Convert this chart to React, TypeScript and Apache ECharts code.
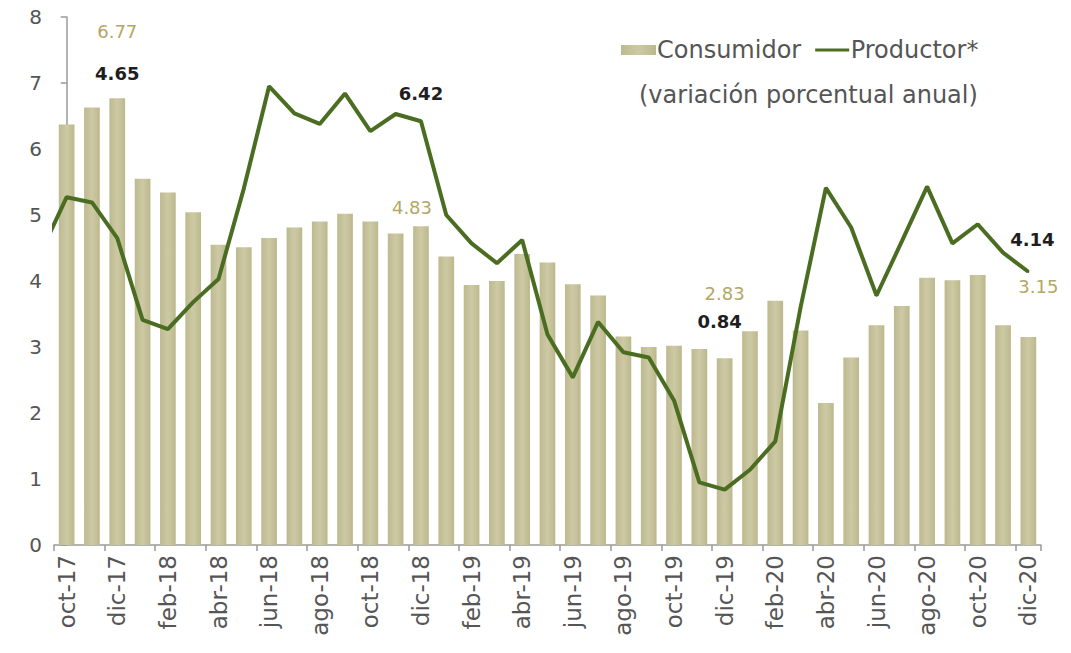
import React, { useEffect, useRef } from 'react';
import * as echarts from 'echarts';

const months = [
  'oct-17', 'nov-17', 'dic-17',
  'ene-18', 'feb-18', 'mar-18', 'abr-18', 'may-18', 'jun-18', 'jul-18', 'ago-18', 'sep-18', 'oct-18', 'nov-18', 'dic-18',
  'ene-19', 'feb-19', 'mar-19', 'abr-19', 'may-19', 'jun-19', 'jul-19', 'ago-19', 'sep-19', 'oct-19', 'nov-19', 'dic-19',
  'ene-20', 'feb-20', 'mar-20', 'abr-20', 'may-20', 'jun-20', 'jul-20', 'ago-20', 'sep-20', 'oct-20', 'nov-20', 'dic-20',
];

const consumidor = [
  6.37, 6.63, 6.77,
  5.55, 5.34, 5.04, 4.55, 4.51, 4.65, 4.81, 4.90, 5.02, 4.90, 4.72, 4.83,
  4.37, 3.94, 4.00, 4.41, 4.28, 3.95, 3.78, 3.16, 3.00, 3.02, 2.97, 2.83,
  3.24, 3.70, 3.25, 2.15, 2.84, 3.33, 3.62, 4.05, 4.01, 4.09, 3.33, 3.15,
];

// sep-17 value (only its segment toward oct-17 is visible, clipped at the axis)
const productorPrev = 4.45;
const productor = [
  5.27, 5.19, 4.65,
  3.41, 3.27, 3.68, 4.03, 5.40, 6.95, 6.54, 6.38, 6.84, 6.27, 6.53, 6.42,
  5.00, 4.57, 4.27, 4.62, 3.19, 2.54, 3.38, 2.92, 2.84, 2.19, 0.95, 0.84,
  1.14, 1.57, 3.60, 5.41, 4.81, 3.78, 4.60, 5.43, 4.57, 4.86, 4.43, 4.14,
];

const yMin = 0;
const yMax = 8;
const yStep = 1;

const legendNames = ['Consumidor', 'Productor*'];
const subtitle = '(variación porcentual anual)';

// indices that carry a value label, with label nudges
const barLabelIdx: Record<number, [number, number]> = { 2: [0, -53], 14: [-9, -5], 26: [0, -51], 38: [10, -37] };
const lineLabelIdx: Record<number, [number, number]> = { 2: [0, -150], 14: [0, -13], 26: [-5, -153], 38: [4, -17] };

const FONT = 'DejaVu Sans';
const KHAKI_TEXT = '#b3a765';
const GREEN = '#4a6d22';
const AXIS = '#9a9a9a';
const TEXT = '#555555';

const LINE_ICON = 'path://M0,0 L0.001,0 M0,10 L0.001,10 M0,3.5 L34,3.5 L34,6.5 L0,6.5 Z';

export default function App() {
  const ref = useRef<HTMLDivElement>(null);

  useEffect(() => {
    const chart = echarts.init(ref.current!, undefined, { renderer: 'svg' });

    const barData = consumidor.map((v, i) => {
      const off = barLabelIdx[i];
      if (!off) return v;
      return {
        value: v,
        label: {
          show: true,
          position: 'top',
          offset: off,
          color: KHAKI_TEXT,
          fontSize: 18,
          fontFamily: FONT,
          formatter: (p: any) => Number(p.value).toFixed(2),
        },
      };
    });

    const linePoints: any[] = [[-1, productorPrev]];
    productor.forEach((v, i) => {
      const off = lineLabelIdx[i];
      if (!off) {
        linePoints.push([i, v]);
      } else {
        linePoints.push({
          value: [i, v],
          label: {
            show: true,
            position: 'top',
            offset: off,
            color: '#1e1e1e',
            fontWeight: 'bold',
            fontSize: 18,
            fontFamily: FONT,
            formatter: (p: any) => Number(p.value[1]).toFixed(2),
          },
        });
      }
    });

    chart.setOption({
      animation: false,
      backgroundColor: '#ffffff',
      textStyle: { fontFamily: FONT },
      title: {
        text: subtitle,
        left: 639,
        top: 83,
        padding: 0,
        textStyle: { fontFamily: FONT, fontSize: 24, fontWeight: 'normal', color: TEXT },
      },
      legend: {
        data: [
          { name: legendNames[0], icon: 'rect' },
          { name: legendNames[1], icon: LINE_ICON, itemStyle: { color: GREEN } },
        ],
        left: 621,
        top: 38,
        padding: 0,
        itemWidth: 35,
        itemHeight: 10,
        itemGap: 14,
        textStyle: { fontFamily: FONT, fontSize: 24, color: TEXT, padding: [0, 0, 0, -4] },
      },
      grid: { left: 54, right: 30, top: 17, bottom: 108, containLabel: false },
      xAxis: [
        {
          type: 'category',
          data: months,
          boundaryGap: true,
          axisLine: { show: true, lineStyle: { color: AXIS, width: 1.5 } },
          axisTick: { show: true, interval: 1, length: 6, lineStyle: { color: AXIS, width: 1.5 } },
          axisLabel: {
            interval: 1,
            rotate: 90,
            margin: 10,
            fontSize: 23,
            color: TEXT,
            fontFamily: FONT,
          },
          splitLine: { show: false },
        },
        {
          type: 'value',
          min: -0.5,
          max: months.length - 0.5,
          show: false,
          splitLine: { show: false },
        },
      ],
      yAxis: {
        type: 'value',
        min: yMin,
        max: yMax,
        interval: yStep,
        axisLine: { show: true, lineStyle: { color: AXIS, width: 1.5 } },
        axisTick: { show: true, length: 6, lineStyle: { color: AXIS, width: 1.5 } },
        axisLabel: { fontSize: 20, color: TEXT, margin: 12, fontFamily: FONT },
        splitLine: { show: false },
      },
      series: [
        {
          name: legendNames[0],
          type: 'bar',
          xAxisIndex: 0,
          data: barData,
          barWidth: '62%',
          itemStyle: {
            color: new echarts.graphic.LinearGradient(0, 0, 1, 0, [
              { offset: 0, color: '#bdb98f' },
              { offset: 0.5, color: '#cdc9a4' },
              { offset: 1, color: '#bcb88d' },
            ]),
          },
          z: 1,
        },
        {
          name: legendNames[1],
          type: 'line',
          xAxisIndex: 1,
          data: linePoints,
          symbol: 'circle',
          symbolSize: 2,
          showSymbol: true,
          clip: true,
          lineStyle: { color: GREEN, width: 4 },
          itemStyle: { color: GREEN },
          z: 3,
        },
      ],
    });

    return () => chart.dispose();
  }, []);

  return (
    <div
      ref={ref}
      style={{ position: 'fixed', left: 0, top: 0, width: 1071, height: 653, background: '#fff' }}
    />
  );
}
